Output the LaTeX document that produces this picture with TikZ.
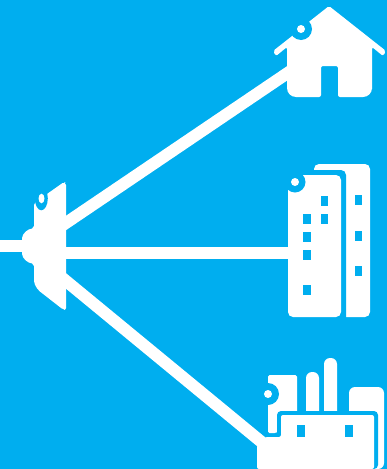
\documentclass[tikz,border=0pt]{standalone}
\definecolor{skyback}{HTML}{00AEEF}
\tikzset{
  feeder/.style={draw=white, line width=12pt},
  solid part/.style={fill=white, draw=none},
  gap part/.style={fill=skyback, draw=none},
}
\begin{document}
\begin{tikzpicture}[x=1pt, y=-1pt]

  % -- Background --
  \fill[skyback] (0,0) rectangle (387,469);
  \useasboundingbox (0,0) rectangle (387,469);

  % -- Connection points --
  \coordinate (input) at (0,246);
  \coordinate (splitter in) at (30,246);
  \coordinate (splitter up) at (60,227);
  \coordinate (splitter mid) at (60,253);
  \coordinate (splitter low) at (60,276);
  \coordinate (house in) at (295,68);
  \coordinate (block in) at (295,253);
  \coordinate (plant in) at (270,449);

  % -- Feeders --
  \draw[feeder] (input) -- (splitter in);
  \draw[feeder] (splitter up) -- (house in);
  \draw[feeder] (splitter mid) -- (block in);
  \draw[feeder] (splitter low) -- (plant in);

  % -- Splitter --
  \fill[solid part, rounded corners=2pt] (64,182) -- (66,183) -- (66,310) -- (63,309.5)
    -- (38,290) -- (34,283) -- (34,264) -- (27,262) -- (22,256) -- (22,236)
    -- (27,230) -- (34,228) -- (34,203) -- (47,194) -- cycle;
  \fill[gap part] (41.3,198.3) ellipse (6.5 and 12);
  \fill[solid part] (41.5,198.5) ellipse (3 and 4.8);

  % -- House --
  \fill[solid part, rounded corners=2pt] (329,6) -- (386,51) -- (383,56) -- (372,47)
    -- (372,87) [rounded corners=9pt] -- (372,97) [rounded corners=2pt] -- (338,97)
    -- (338,66) -- (321,66) -- (321,97) [rounded corners=9pt] -- (287,97)
    [rounded corners=2pt] -- (287,47) -- (276,56) -- (273,51) -- (301,29) -- (310,21) -- cycle;
  \fill[gap part] (301,29) circle (11);
  \fill[solid part] (301,29) circle (4);

  % -- Apartment block --
  \fill[solid part, rounded corners=5pt] (314,180) -- (314,164) -- (370,164) -- (370,317)
    [sharp corners] -- (346,317) -- (346,180) -- cycle;
  \fill[gap part, rounded corners=5pt] (300,170) -- (346,170) [sharp corners] -- (346,325) -- (300,325) -- cycle;
  \fill[solid part, rounded corners=5pt] (288,175) rectangle (341,317);
  \fill[gap part] (295,182) circle (10.5);
  \fill[solid part] (295,182) circle (4);
  \foreach \wx/\wy in {324.3/201.3, 324.3/219.3, 307/219.3, 307/237, 307/255, 307/289.7, 358.7/200.3, 358.7/236, 358.7/271}
    \fill[gap part] (\wx-3.7,\wy-5) rectangle (\wx+3.7,\wy+5);

  % -- Factory --
  \fill[solid part, rounded corners=6pt] (349,469) -- (349,387) -- (384,387) -- (384,469) -- cycle;
  \fill[solid part, rounded corners=1.5pt] (268,433) -- (268,375) -- (297,375) -- (297,420) -- (276,433) -- cycle;
  \fill[solid part, rounded corners=6pt] (306,420) -- (306,372) -- (319,372) -- (319,420) -- cycle;
  \fill[solid part, rounded corners=6pt] (324,420) -- (324,358) -- (337,358) -- (337,420) -- cycle;
  \fill[gap part, rounded corners=4pt] (277,437) -- (277,411) -- (378,411) -- (378,469) -- (277,469) -- cycle;
  \fill[solid part, rounded corners=2pt] (257,469) -- (257,445) -- (265,437) -- (281,437)
    -- (281,415) -- (374,415) -- (374,469) -- cycle;
  \fill[gap part] (268,394) circle (11);
  \fill[solid part] (268,394) circle (4);
  \foreach \wx in {301.3, 349.3}
    \fill[gap part] (\wx-4,425) rectangle (\wx+4,437);

\end{tikzpicture}
\end{document}
